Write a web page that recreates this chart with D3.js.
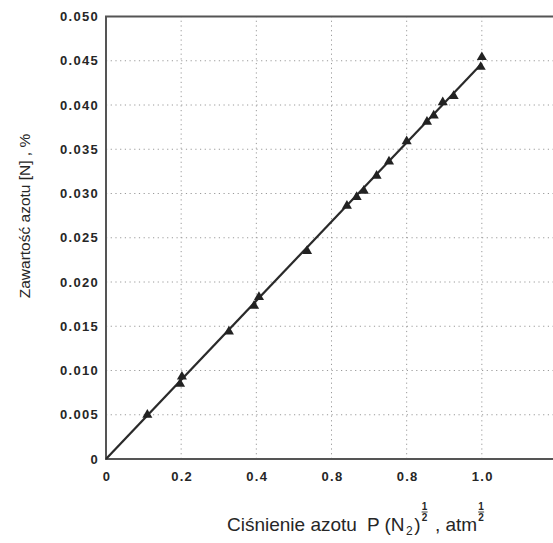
<!DOCTYPE html>
<html><head><meta charset="utf-8">
<script src="https://cdn.jsdelivr.net/npm/d3@7"></script>
<style>
html,body{margin:0;padding:0;background:#fff;}
svg{display:block;}
text{font-family:"Liberation Sans",Arial,sans-serif;fill:#262626;}
</style></head>
<body>
<svg id="c" width="553" height="543"></svg>
<script>
// ---- data ----
const pointsX = [0.11, 0.197, 0.202, 0.327, 0.394, 0.407, 0.535, 0.641, 0.667, 0.686, 0.72, 0.753, 0.80, 0.854, 0.872, 0.896, 0.925, 0.997, 1.0];
const pointsY = [0.0050, 0.0085, 0.0093, 0.0144, 0.0173, 0.0183, 0.0235, 0.0286, 0.0296, 0.0303, 0.0320, 0.0336, 0.0359, 0.0381, 0.0388, 0.0403, 0.0410, 0.0443, 0.0454];
const lineX = [0, 1.0];
const lineY = [0, 0.0447];
const xTicks = [0, 0.2, 0.4, 0.6, 0.8, 1.0];
const xTickLabels = ["0", "0.2", "0.4", "0.8", "0.8", "1.0"];
const yTicks = [0, 0.005, 0.010, 0.015, 0.020, 0.025, 0.030, 0.035, 0.040, 0.045, 0.050];
const yTickLabels = ["0", "0.005", "0.010", "0.015", "0.020", "0.025", "0.030", "0.035", "0.040", "0.045", "0.050"];
const yTitle = "Zawartość azotu [N] , %";

// ---- layout ----
const svg = d3.select("#c");
const x = d3.scaleLinear().domain([0, 1.2]).range([106, 557]);
const y = d3.scaleLinear().domain([0, 0.05]).range([459, 16.5]);

// grid
const g = svg.append("g");
g.selectAll("line.vg").data(xTicks.slice(1)).join("line")
  .attr("x1", d => x(d)).attr("x2", d => x(d))
  .attr("y1", y(0)).attr("y2", y(0.05))
  .attr("stroke", "#9a9a9a").attr("stroke-width", 1).attr("stroke-dasharray", "1.2,3.5");
g.selectAll("line.hg").data(yTicks.slice(1, -1)).join("line")
  .attr("x1", x(0)).attr("x2", x(1.2))
  .attr("y1", d => y(d)).attr("y2", d => y(d))
  .attr("stroke", "#9a9a9a").attr("stroke-width", 1).attr("stroke-dasharray", "1.2,3.5");

// frame
svg.append("path")
  .attr("d", `M${x(1.2)},${y(0.05)}H${x(0)}V${y(0)}H${x(1.2)}`)
  .attr("fill", "none").attr("stroke", "#555").attr("stroke-width", 2);

// fit line
const lineData = lineX.map((v, i) => [v, lineY[i]]);
svg.append("path")
  .attr("d", d3.line().x(d => x(d[0])).y(d => y(d[1]))(lineData))
  .attr("fill", "none").attr("stroke", "#2a2a2a").attr("stroke-width", 2.2);

// points
const pts = pointsX.map((v, i) => [v, pointsY[i]]);
svg.selectAll("path.pt").data(pts).join("path")
  .attr("transform", d => `translate(${x(d[0])},${y(d[1])})`)
  .attr("d", d3.symbol().type(d3.symbolTriangle).size(44))
  .attr("fill", "#222");

// axis tick labels
svg.selectAll("text.xt").data(xTicks).join("text")
  .attr("x", d => x(d) + 1).attr("y", 481)
  .attr("text-anchor", "middle")
  .attr("font-size", 13).attr("font-weight", "bold").attr("letter-spacing", 1.3)
  .text((d, i) => xTickLabels[i]);
svg.selectAll("text.yt").data(yTicks).join("text")
  .attr("x", 99).attr("y", d => y(d) + 4.5)
  .attr("text-anchor", "end")
  .attr("font-size", 13).attr("font-weight", "bold").attr("letter-spacing", 1.3)
  .text((d, i) => yTickLabels[i]);

// y title
svg.append("text")
  .attr("transform", "translate(30,216) rotate(-90)")
  .attr("text-anchor", "middle")
  .attr("font-size", 15.5)
  .text(yTitle);

// x title with stacked 1/2 exponents
const tg = svg.append("g");
let cx = 227;
const base = 531;
const fs = 19;
function piece(str, dx, dy, size) {
  const t = tg.append("text").attr("x", cx + (dx || 0)).attr("y", base + (dy || 0))
    .attr("font-size", size || fs).attr("xml:space", "preserve").text(str);
  cx = cx + (dx || 0) + t.node().getComputedTextLength();
  return t;
}
function frac() {
  const fx = cx + 4;
  tg.append("text").attr("x", fx).attr("y", base - 21).attr("font-size", 10).attr("font-weight", "bold").attr("text-anchor", "middle").text("1");
  tg.append("line").attr("x1", fx - 3).attr("x2", fx + 3).attr("y1", base - 19).attr("y2", base - 19).attr("stroke", "#2a2a2a").attr("stroke-width", 0.9);
  tg.append("text").attr("x", fx).attr("y", base - 10).attr("font-size", 10).attr("font-weight", "bold").attr("text-anchor", "middle").text("2");
  cx = fx + 5;
}
piece("Ciśnienie azotu");
piece("P (N", 10);
piece("2", 1.5, 4, 12);
piece(")", 1.5);
frac();
piece(" , atm", 0);
frac();
</script>
</body></html>
